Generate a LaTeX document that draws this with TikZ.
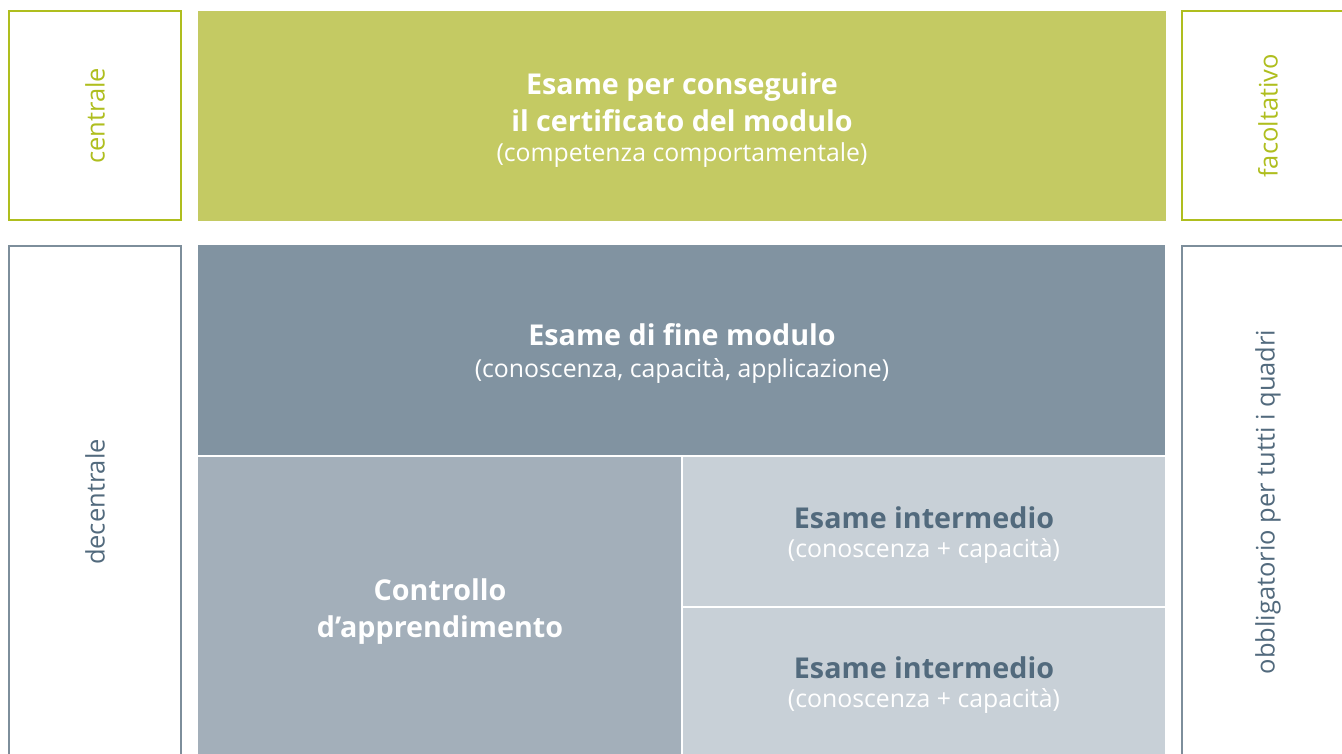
\documentclass[tikz,border=0pt]{standalone}
\usepackage{fontspec}
\setmainfont{Open Sans}
\definecolor{lime}{HTML}{C4CA63}
\definecolor{limeline}{HTML}{AFBE1E}
\definecolor{slatedark}{HTML}{8193A1}
\definecolor{slatemid}{HTML}{A3AFBA}
\definecolor{slatelight}{HTML}{C8D0D7}
\definecolor{slatetext}{HTML}{526A7D}
\definecolor{slateline}{HTML}{7D8E9B}
\tikzset{
  sidebox/.style={draw=#1, line width=1.5pt, fill=white},
  block/.style={fill=#1, draw=none},
  divider/.style={draw=white, line width=2pt},
  head/.style={font=\fontsize{28.7}{32}\selectfont\bfseries, anchor=base},
  sub/.style={font=\fontsize{24.8}{28}\selectfont, anchor=base},
  sidelabel/.style={font=\fontsize{25.5}{28}\selectfont, rotate=90, anchor=center},
}
\begin{document}
\begin{tikzpicture}[x=1pt,y=-1pt]
\useasboundingbox (0,0) rectangle (1342,754);
% top row
\draw[sidebox=limeline] (9,11) rectangle (181,220);
\fill[block=lime] (198,11) rectangle (1166,221);
\draw[sidebox=limeline] (1182,11) rectangle (1350,220);
\node[sidelabel, text=limeline] (centrale) at (95,116) {centrale};
\node[sidelabel, text=limeline] (facolt) at (1268,116) {facoltativo};
\node[head, text=white] (t1) at (682,95) {Esame per conseguire};
\node[head, text=white] (t2) at (682,132) {il certificato del modulo};
\node[sub, text=white] (t3) at (682,162) {(competenza comportamentale)};
% bottom row
\draw[sidebox=slateline] (9,246) rectangle (181,770);
\draw[sidebox=slateline] (1182,246) rectangle (1350,770);
\node[sidelabel, text=slatetext] (decentr) at (95,502) {decentrale};
\node[sidelabel, text=slatetext] (obblig) at (1268,502) {obbligatorio per tutti i quadri};
\fill[block=slatedark] (198,245) rectangle (1165,456);
\fill[block=slatemid] (198,456) rectangle (682,760);
\fill[block=slatelight] (682,456) rectangle (1165,760);
\draw[divider] (198,456) -- (1165,456);
\draw[divider] (682,456) -- (682,760);
\draw[divider] (682,607) -- (1165,607);
\node[head, text=white] (f1) at (682,345) {Esame di fine modulo};
\node[sub, text=white] (f2) at (682,377) {(conoscenza, capacità, applicazione)};
\node[head, text=white] (c1) at (440,600) {Controllo};
\node[head, text=white] (c2) at (440,637) {d’apprendimento};
\node[head, text=slatetext] (i1) at (924,528) {Esame intermedio};
\node[sub, text=white] (i2) at (924,557) {(conoscenza + capacità)};
\node[head, text=slatetext] (j1) at (924,678) {Esame intermedio};
\node[sub, text=white] (j2) at (924,707) {(conoscenza + capacità)};
\end{tikzpicture}
\end{document}
